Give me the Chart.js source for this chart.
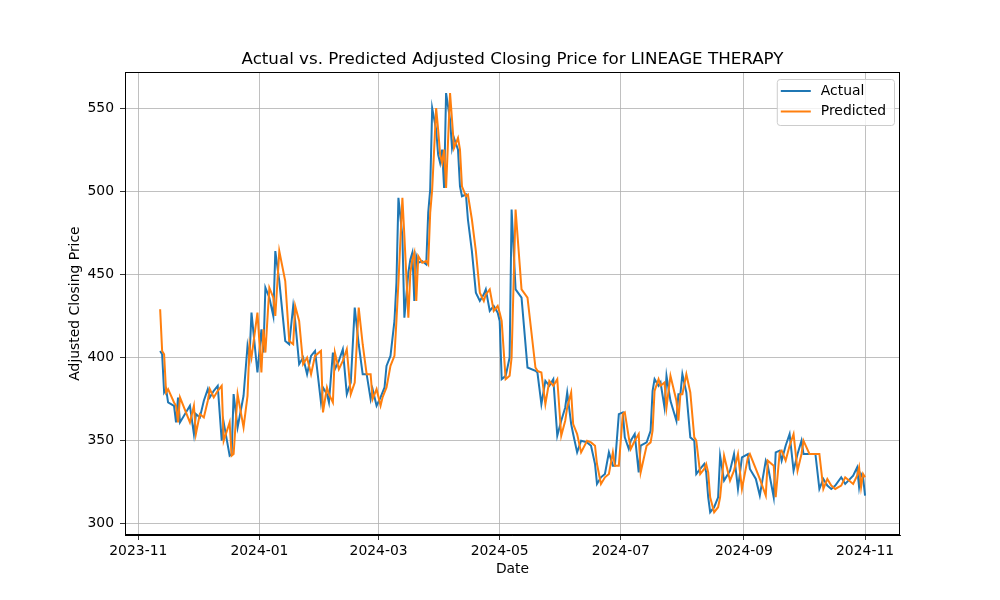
<!DOCTYPE html>
<html>
<head>
<meta charset="utf-8">
<title>Actual vs. Predicted Adjusted Closing Price</title>
<script src="https://cdn.jsdelivr.net/npm/chart.js@4.4.1/dist/chart.umd.min.js"></script>
<style>
    html, body { margin: 0; padding: 0; background: #fff; }
    #wrap { width: 1000px; height: 600px; }
</style>
</head>
<body>
<div id="wrap"><canvas id="priceChart" width="1000" height="600"></canvas></div>
<script>
/* ==========================================
   DATA  (x = days since 2023-11-01)
========================================== */

const dayOffsets = [
    11, 12, 13, 14, 15, 18, 19, 20, 21, 26, 28, 29, 31, 33, 35, 36, 38, 40, 42, 43,
    46, 47, 48, 50, 53, 55, 56, 57, 60, 62, 63, 64, 66, 68, 69, 71, 74, 76, 78, 79,
    81, 83, 85, 87, 89, 92, 93, 95, 96, 98, 99, 101, 103, 105, 107, 109, 111, 113, 115, 117,
    118, 120, 122, 123, 124, 125, 127, 129, 130, 131, 133, 134, 136, 137, 138, 139, 140, 141, 143, 145,
    146, 147, 148, 150, 151, 152, 153, 154, 155, 157, 158, 159, 161, 162, 163, 165, 166, 168, 170, 172,
    174, 175, 177, 179, 181, 182, 183, 185, 187, 188, 190, 193, 196, 200, 201, 203, 205, 207, 209, 211,
    213, 215, 216, 218, 219, 221, 223, 226, 228, 230, 231, 233, 235, 237, 239, 240, 242, 244, 245, 247,
    248, 250, 252, 253, 256, 258, 259, 260, 262, 263, 265, 266, 268, 271, 272, 273, 274, 276, 278, 280,
    281, 283, 285, 286, 287, 288, 290, 292, 293, 295, 298, 300, 302, 304, 307, 308, 311, 313, 316, 317,
    320, 321, 323, 324, 326, 328, 330, 332, 334, 335, 338, 341, 343, 345, 347, 349, 351, 354, 356, 360,
    362, 363, 364, 365, 366
];

const actualPrice = [
    404, 402, 379, 381, 373, 371, 361, 376, 361, 371, 354, 366, 364, 374, 381, 376, 380, 383, 350, 361,
    341, 342, 378, 358, 377, 407, 400, 427, 391, 417, 403, 442, 436, 425, 464, 446, 410, 408, 431, 422,
    396, 400, 390, 401, 404, 373, 382, 378, 373, 403, 393, 398, 405, 378, 385, 430, 408, 390, 390, 375,
    381, 371, 376, 379, 382, 395, 401, 422, 445, 496, 473, 424, 451, 459, 463, 434, 461, 457, 458, 456,
    487, 501, 550, 537, 522, 517, 525, 502, 559, 543, 526, 532, 525, 503, 497, 498, 483, 464, 439, 434,
    438, 441, 428, 431, 427, 422, 387, 389, 400, 489, 441, 436, 394, 392, 391, 372, 386, 383, 387, 353,
    362, 370, 379, 360, 354, 343, 350, 349, 347, 336, 324, 328, 330, 343, 335, 335, 366, 367, 352, 345,
    350, 354, 331, 347, 349, 356, 380, 387, 383, 385, 370, 389, 374, 362, 378, 378, 390, 379, 352, 350,
    330, 333, 336, 331, 316, 307, 310, 316, 341, 326, 332, 342, 321, 340, 342, 333, 327, 317, 338, 335,
    316, 343, 344, 338, 347, 354, 332, 342, 350, 342, 342, 342, 321, 327, 323, 321, 323, 328, 324, 329,
    334, 322, 330, 328, 317
];

const predictedPrice = [
    429, 404, 402, 379, 381, 373, 371, 361, 376, 361, 371, 354, 366, 364, 374, 381, 376, 380, 383, 350,
    361, 341, 342, 378, 358, 377, 407, 400, 427, 391, 417, 403, 442, 436, 425, 464, 446, 410, 408, 431,
    422, 396, 400, 390, 401, 404, 367, 382, 378, 373, 403, 393, 398, 405, 378, 385, 430, 408, 390, 390,
    375, 381, 371, 376, 379, 382, 395, 401, 422, 445, 496, 473, 424, 451, 459, 463, 434, 461, 457, 458,
    456, 487, 501, 550, 537, 522, 517, 525, 502, 559, 543, 526, 532, 525, 503, 497, 498, 483, 464, 439,
    434, 438, 441, 428, 431, 427, 422, 387, 389, 400, 489, 441, 436, 394, 392, 391, 372, 386, 383, 387,
    353, 362, 370, 379, 360, 354, 343, 350, 349, 347, 336, 324, 328, 330, 343, 335, 335, 366, 367, 352,
    345, 350, 354, 331, 347, 349, 356, 380, 387, 383, 385, 370, 389, 374, 362, 378, 378, 390, 379, 352,
    350, 330, 333, 336, 331, 316, 307, 310, 316, 341, 326, 332, 342, 321, 340, 342, 333, 327, 317, 338,
    335, 316, 343, 344, 338, 347, 354, 332, 342, 350, 342, 342, 342, 321, 327, 323, 321, 323, 328, 324,
    329, 334, 322, 330, 328
];

const xTickDays = [0, 61, 121, 182, 243, 305, 366];
const xTickLabels = ["2023-11", "2024-01", "2024-03", "2024-05", "2024-07", "2024-09", "2024-11"];
const yTickValues = [300, 350, 400, 450, 500, 550];

const seriesNames = ["Actual", "Predicted"];
const seriesColors = ["#1f77b4", "#ff7f0e"];

const chartTitle = "Actual vs. Predicted Adjusted Closing Price for LINEAGE THERAPY";

/* ==========================================
   SETUP
========================================== */

document.addEventListener("DOMContentLoaded", () => {
    initializeDefaults();
    initializePriceChart();
});

function initializeDefaults() {
    Chart.defaults.font.family = "'DejaVu Sans', sans-serif";
    Chart.defaults.font.size = 13.9;
    Chart.defaults.color = "#000";
}

function toPoints(values) {
    return values.map((v, i) => ({ x: dayOffsets[i], y: v }));
}

/* ==========================================
   PLUGINS: title over plot, frame, legend
========================================== */

const plotTitle = {
    id: "plotTitle",
    afterDraw(chart) {
        const { ctx, chartArea: a } = chart;
        ctx.save();
        ctx.font = "16.7px 'DejaVu Sans', sans-serif";
        ctx.fillStyle = "#000";
        ctx.textAlign = "center";
        ctx.textBaseline = "alphabetic";
        ctx.fillText(chartTitle, (a.left + a.right) / 2, a.top - 8);
        ctx.restore();
    }
};

const frameBox = {
    id: "frameBox",
    afterDatasetsDraw(chart) {
        const { ctx, chartArea: a } = chart;
        ctx.save();
        ctx.strokeStyle = "#000";
        ctx.lineWidth = 1;
        ctx.strokeRect(Math.round(a.left) + 0.5, Math.round(a.top) + 0.5,
            Math.round(a.right - a.left) - 1, Math.round(a.bottom - a.top) - 1);
        ctx.restore();
    }
};

const insideLegend = {
    id: "insideLegend",
    afterDraw(chart) {
        const { ctx, chartArea: a } = chart;
        ctx.save();
        ctx.font = "13.9px 'DejaVu Sans', sans-serif";

        const textW = Math.max(...seriesNames.map(n => ctx.measureText(n).width));
        const w = 44 + textW + 8;
        const h = 46;
        const x0 = a.right - 6 - w;
        const y0 = a.top + 7;

        ctx.beginPath();
        ctx.roundRect(x0 + 0.5, y0 + 0.5, w, h, 3);
        ctx.fillStyle = "rgba(255,255,255,0.8)";
        ctx.fill();
        ctx.strokeStyle = "#cccccc";
        ctx.lineWidth = 1;
        ctx.stroke();

        seriesNames.forEach((name, i) => {
            const y = y0 + 12 + i * 20.5;
            ctx.beginPath();
            ctx.moveTo(x0 + 4, y);
            ctx.lineTo(x0 + 34, y);
            ctx.strokeStyle = seriesColors[i];
            ctx.lineWidth = 2;
            ctx.stroke();

            ctx.fillStyle = "#000";
            ctx.textBaseline = "middle";
            ctx.textAlign = "left";
            ctx.fillText(name, x0 + 44, y);
        });
        ctx.restore();
    }
};

/* ==========================================
   PRICE CHART
========================================== */

function initializePriceChart() {

    const canvas = document.getElementById("priceChart");

    if (!canvas) return;

    new Chart(canvas, {
        type: "line",

        data: {
            datasets: [
                {
                    label: seriesNames[0],
                    data: toPoints(actualPrice),
                    borderColor: seriesColors[0],
                    backgroundColor: seriesColors[0],
                    borderWidth: 2,
                    pointRadius: 0,
                    tension: 0,
                    order: 1
                },
                {
                    label: seriesNames[1],
                    data: toPoints(predictedPrice),
                    borderColor: seriesColors[1],
                    backgroundColor: seriesColors[1],
                    borderWidth: 2,
                    pointRadius: 0,
                    tension: 0,
                    order: 0
                }
            ]
        },

        options: {
            responsive: false,
            animation: false,
            devicePixelRatio: 1,

            layout: {
                padding: { top: 72, right: 100, bottom: 0, left: 0 }
            },

            plugins: {
                legend: { display: false },
                tooltip: { enabled: false },
                title: { display: false }
            },

            scales: {
                x: {
                    type: "linear",
                    min: -6.7,
                    max: 383.6,
                    afterBuildTicks: scale => {
                        scale.ticks = xTickDays.map(v => ({ value: v }));
                    },
                    afterFit: scale => { scale.height = 65; },
                    ticks: {
                        autoSkip: false,
                        maxRotation: 0,
                        padding: 3,
                        color: "#000",
                        callback: value => xTickLabels[xTickDays.indexOf(value)] || ""
                    },
                    grid: {
                        color: "#b0b0b0",
                        lineWidth: 0.8,
                        tickColor: "#000",
                        tickLength: 5
                    },
                    border: { display: true, color: "#000" },
                    title: {
                        display: true,
                        text: "Date",
                        color: "#000",
                        padding: { top: 0, bottom: 22.7 }
                    }
                },

                y: {
                    min: 293.3,
                    max: 571.7,
                    afterBuildTicks: scale => {
                        scale.ticks = yTickValues.map(v => ({ value: v }));
                    },
                    afterFit: scale => { scale.width = 125; },
                    ticks: {
                        padding: 6,
                        color: "#000"
                    },
                    grid: {
                        color: "#b0b0b0",
                        lineWidth: 0.8,
                        tickColor: "#000",
                        tickLength: 5
                    },
                    border: { display: true, color: "#000" },
                    title: {
                        display: true,
                        text: "Adjusted Closing Price",
                        color: "#000",
                        padding: { top: 66.7, bottom: 0 }
                    }
                }
            }
        },

        plugins: [plotTitle, frameBox, insideLegend]
    });

}
</script>
</body>
</html>
